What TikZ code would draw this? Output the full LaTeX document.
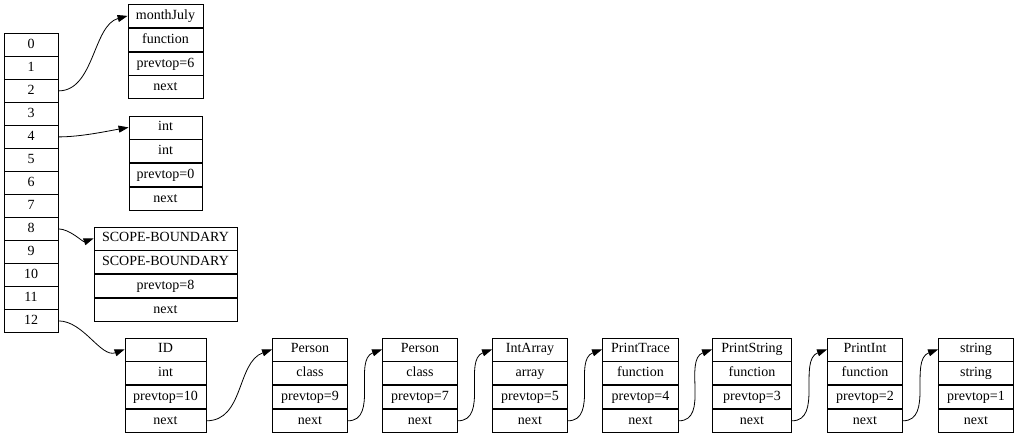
\documentclass[tikz,border=0pt]{standalone}
\usepackage{fontspec}
\setmainfont{Liberation Serif}
\usetikzlibrary{arrows.meta}
% one record of a symbol table entry: name, centre x, top y, width, four fields
\newcommand\recbox[8]{%
  \node[cell, minimum width=#4pt] (#1a) at (#2,#3) {#5};
  \node[cell, minimum width=#4pt] (#1b) at (#1a.south) {#6};
  \node[cell, minimum width=#4pt] (#1c) at (#1b.south) {#7};
  \node[cell, minimum width=#4pt] (#1d) at (#1c.south) {#8};
}
\begin{document}
\begin{tikzpicture}[x=1pt,y=-1pt,
  cell/.style={draw, line width=0.8pt, minimum height=23pt, inner sep=0pt,
    text height=10pt, text depth=3pt, anchor=north,
    font=\fontsize{14}{16}\selectfont},
  link/.style={line width=0.8pt, -{Triangle[length=10pt,width=7pt]}}]
\useasboundingbox (0,0) rectangle (1016,434);

% hash table slots
\foreach \i in {0,...,12}
  \node[cell, minimum width=54pt] (a\i) at (31,{33+23*\i}) {\i};

% entries
\recbox{mj}{165.5}{4}{75}{monthJuly}{function}{prevtop=6}{next}
\recbox{it}{165.5}{115.5}{73}{int}{int}{prevtop=0}{next}
\recbox{sb}{165.5}{226.5}{143}{SCOPE-BOUNDARY}{SCOPE-BOUNDARY}{prevtop=8}{next}
\recbox{id}{165.5}{337.5}{81}{ID}{int}{prevtop=10}{next}
\recbox{pa}{310}{337.5}{75}{Person}{class}{prevtop=9}{next}
\recbox{pb}{420}{337.5}{75}{Person}{class}{prevtop=7}{next}
\recbox{ia}{530}{337.5}{75}{IntArray}{array}{prevtop=5}{next}
\recbox{pt}{640.5}{337.5}{76}{PrintTrace}{function}{prevtop=4}{next}
\recbox{ps}{752}{337.5}{79}{PrintString}{function}{prevtop=3}{next}
\recbox{pi}{865}{337.5}{75}{PrintInt}{function}{prevtop=2}{next}
\recbox{st}{976}{337.5}{75}{string}{string}{prevtop=1}{next}

% slot pointers
\draw[link] (a2.east) to[out=0,in=195,looseness=0.9] (mja.west);
\draw[link] (a4.east) to[out=0,in=190,looseness=0.8] (ita.west);
\draw[link] (a8.east) to[out=0,in=200,looseness=0.8] (sba.west);
\draw[link] (a12.east) to[out=0,in=200,looseness=0.9] (ida.west);

% chain of next pointers
\draw[link] (idd.east) to[out=0,in=200] (paa.west);
\draw[link] (pad.east) to[out=0,in=200] (pba.west);
\draw[link] (pbd.east) to[out=0,in=200] (iaa.west);
\draw[link] (iad.east) to[out=0,in=200] (pta.west);
\draw[link] (ptd.east) to[out=0,in=200] (psa.west);
\draw[link] (psd.east) to[out=0,in=200] (pia.west);
\draw[link] (pid.east) to[out=0,in=200] (sta.west);
\end{tikzpicture}
\end{document}
